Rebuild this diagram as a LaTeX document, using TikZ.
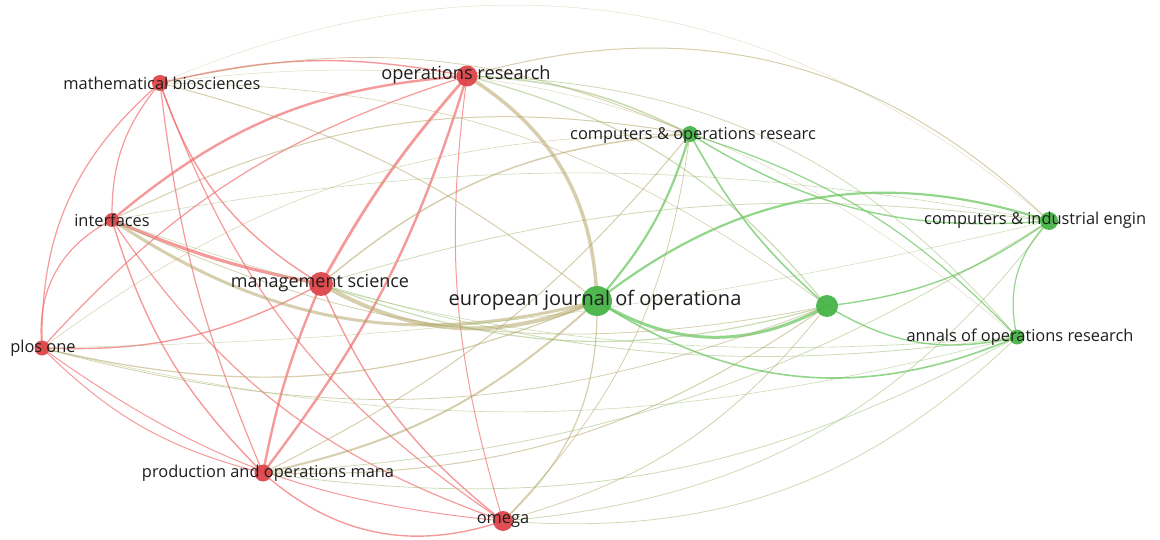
\documentclass[tikz,border=0pt]{standalone}
\usepackage{fontspec}
\setmainfont{Open Sans}
\pgfdeclarelayer{bg}
\pgfsetlayers{bg,main}
\definecolor{nred}{RGB}{222,70,74}
\definecolor{ngreen}{RGB}{72,180,72}
\definecolor{ered}{RGB}{240,100,100}
\definecolor{egreen}{RGB}{110,200,100}
\definecolor{emix}{RGB}{180,165,105}
\definecolor{egmix}{RGB}{150,185,105}
\definecolor{txt}{RGB}{30,30,30}
\tikzset{
  rnode/.style={circle,fill=nred,draw=none,inner sep=0pt,opacity=0.95},
  gnode/.style={circle,fill=ngreen,draw=none,inner sep=0pt,opacity=0.95},
  lbl/.style={text=txt,inner sep=0pt,anchor=center},
  rr/.style={draw=ered,opacity=0.65},
  gg/.style={draw=egreen,opacity=0.75},
  rg/.style={draw=emix,opacity=0.55},
  rgg/.style={draw=egmix,opacity=0.5},
  small/.style={font=\fontsize{16.4}{18}\selectfont},
}
\begin{document}
\begin{tikzpicture}[x=1pt,y=1pt]
\clip (0,0) rectangle (1160,-540);
% nodes
\node[rnode,minimum size=16pt] (MB) at (160,-83) {};
\node[rnode,minimum size=21pt] (OR) at (467,-76) {};
\node[gnode,minimum size=16pt] (CO) at (690,-134) {};
\node[rnode,minimum size=14pt] (I) at (112,-220) {};
\node[gnode,minimum size=18pt] (CI) at (1049,-221) {};
\node[rnode,minimum size=24pt] (M) at (321,-284) {};
\node[gnode,minimum size=30pt] (E) at (597,-301) {};
\node[gnode,minimum size=22pt] (U) at (827,-306) {};
\node[gnode,minimum size=15pt] (A) at (1017,-337) {};
\node[rnode,minimum size=15pt] (P) at (42,-348) {};
\node[rnode,minimum size=17pt] (PO) at (263,-473) {};
\node[rnode,minimum size=20pt] (O) at (503,-521) {};
% edges
\begin{pgfonlayer}{bg}
% red-red
\draw[rr,line width=1.4] (MB.center) to[bend left=12] (OR.center);
\draw[rr,line width=1.2] (MB.center) to[bend right=20] (I.center);
\draw[rr,line width=1.4] (MB.center) to[bend right=20] (M.center);
\draw[rr,line width=1.2] (MB.center) to[bend right=18] (O.center);
\draw[rr,line width=1.2] (MB.center) to[bend right=25] (P.center);
\draw[rr,line width=1.2] (MB.center) to[bend right=8] (PO.center);
\draw[rr,line width=2.4] (OR.center) to[bend right=18] (I.center);
\draw[rr,line width=2.8] (OR.center) to[bend right=6] (M.center);
\draw[rr,line width=1.2] (OR.center) to[bend right=15] (P.center);
\draw[rr,line width=2.4] (OR.center) to[bend left=10] (PO.center);
\draw[rr,line width=1.0] (OR.center) to[bend right=12] (O.center);
\draw[rr,line width=3.2] (I.center) to[bend right=6] (M.center);
\draw[rr,line width=1.2] (I.center) to[bend right=35] (P.center);
\draw[rr,line width=1.4] (I.center) to[bend right=14] (PO.center);
\draw[rr,line width=1.2] (I.center) to[bend right=18] (O.center);
\draw[rr,line width=1.4] (M.center) to[bend left=15] (P.center);
\draw[rr,line width=2.4] (M.center) to[bend right=6] (PO.center);
\draw[rr,line width=1.4] (M.center) to[bend right=14] (O.center);
\draw[rr,line width=1.0] (P.center) to[bend right=15] (PO.center);
\draw[rr,line width=1.0] (P.center) to[bend right=15] (O.center);
\draw[rr,line width=1.4] (PO.center) to[bend right=30] (O.center);
% green-green
\draw[gg,line width=2.2] (CO.center) to[bend left=12] (E.center);
\draw[gg,line width=1.6] (CO.center) to[bend right=10] (U.center);
\draw[gg,line width=1.4] (CO.center) to[bend right=18] (CI.center);
\draw[gg,line width=1.2] (CO.center) to[bend left=14] (A.center);
\draw[gg,line width=3.0] (E.center) to[bend right=30] (U.center);
\draw[gg,line width=2.2] (E.center) to[bend left=28] (CI.center);
\draw[gg,line width=1.6] (E.center) to[bend right=28] (A.center);
\draw[gg,line width=1.4] (U.center) to[bend right=14] (CI.center);
\draw[gg,line width=1.4] (U.center) to[bend right=22] (A.center);
\draw[gg,line width=1.2] (CI.center) to[bend right=28] (A.center);
% red-green
\draw[rg,line width=0.8] (MB.center) to[bend left=18] (CO.center);
\draw[rg,line width=1.0] (MB.center) to[bend left=12] (E.center);
\draw[rg,line width=0.6] (MB.center) to[bend left=18] (U.center);
\draw[rg,line width=0.5,opacity=0.35] (MB.center) to[bend left=32] (CI.center);
\draw[rg,line width=0.5,opacity=0.4] (MB.center) to[bend left=24] (A.center);
\draw[rgg,line width=1.6] (OR.center) to[bend left=12] (CO.center);
\draw[rg,line width=3.5] (OR.center) to[bend left=28] (E.center);
\draw[rgg,line width=1.2] (OR.center) to[bend left=18] (U.center);
\draw[rg,line width=1.0] (OR.center) to[bend left=30] (CI.center);
\draw[rgg,line width=0.8] (OR.center) to[bend left=24] (A.center);
\draw[rg,line width=1.0] (I.center) to[bend left=18] (CO.center);
\draw[rg,line width=3.0] (I.center) to[bend right=24] (E.center);
\draw[rg,line width=0.8] (I.center) to[bend right=18] (U.center);
\draw[rgg,line width=0.6] (I.center) to[bend left=10] (CI.center);
\draw[rgg,line width=0.6] (I.center) to[bend right=12] (A.center);
\draw[rg,line width=1.5] (M.center) to[bend left=18] (CO.center);
\draw[rg,line width=4.0] (M.center) to[bend right=26] (E.center);
\draw[rgg,line width=1.2] (M.center) to[bend right=18] (U.center);
\draw[rgg,line width=0.8] (M.center) to[bend left=12] (CI.center);
\draw[rgg,line width=0.8] (M.center) to[bend right=12] (A.center);
\draw[rg,line width=0.5] (P.center) to[bend left=18] (CO.center);
\draw[rg,line width=1.2] (P.center) to[bend right=18] (E.center);
\draw[rg,line width=0.8] (P.center) to[bend right=18] (U.center);
\draw[rgg,line width=0.5] (P.center) to[bend right=6] (CI.center);
\draw[rgg,line width=0.6] (P.center) to[bend right=14] (A.center);
\draw[rg,line width=1.0] (PO.center) to[bend right=12] (CO.center);
\draw[rg,line width=2.0] (PO.center) to[bend right=15] (E.center);
\draw[rg,line width=1.0] (PO.center) to[bend right=18] (U.center);
\draw[rgg,line width=0.8] (PO.center) to[bend right=14] (CI.center);
\draw[rgg,line width=0.8] (PO.center) to[bend right=18] (A.center);
\draw[rg,line width=0.8] (O.center) to[bend right=18] (CO.center);
\draw[rg,line width=1.2] (O.center) to[bend right=24] (E.center);
\draw[rg,line width=0.8] (O.center) to[bend right=18] (U.center);
\draw[rgg,line width=0.8] (O.center) to[bend right=24] (CI.center);
\draw[rgg,line width=0.8] (O.center) to[bend right=24] (A.center);
\end{pgfonlayer}
% labels
\node[lbl,small] (lMB) at (162,-83) {mathematical biosciences};
\node[lbl,font=\fontsize{18.2}{20}\selectfont] (lOR) at (466,-75) {operations research};
\node[lbl,small] (lCO) at (693,-135) {computers \& operations researc};
\node[lbl,small] (lI) at (112,-220) {interfaces};
\node[lbl,small,anchor=west] (lCI) at (924,-220) {computers \& industrial engin};
\node[lbl,font=\fontsize{18}{20}\selectfont] (lM) at (320,-283) {management science};
\node[lbl,font=\fontsize{20}{22}\selectfont] (lE) at (595,-300) {european journal of operationa};
\node[lbl,small] (lA) at (1020,-337) {annals of operations research};
\node[lbl,small] (lP) at (43,-348) {plos one};
\node[lbl,small] (lPO) at (268,-473) {production and operations mana};
\node[lbl,small] (lO) at (503,-521) {omega};
\end{tikzpicture}
\end{document}
